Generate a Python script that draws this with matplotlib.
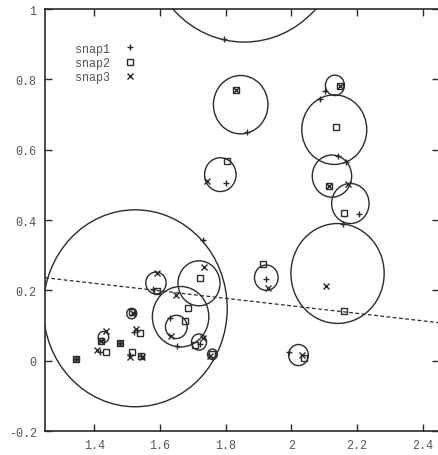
"""
Cluster circles of three snapshots, gnuplot-style scan look.
"""

import matplotlib
matplotlib.use("Agg")
import matplotlib.pyplot as plt
from matplotlib.patches import Circle

# snapshot points (x, y)
snap1_x = [1.866, 1.802, 2.102, 2.089, 2.141, 2.168, 2.206, 2.158, 1.923, 1.993,
           1.730, 1.796, 1.653, 1.580, 1.632, 1.722, 1.522, 1.520, 1.478, 1.419,
           1.344, 1.509, 1.541, 1.425]
snap1_y = [0.649, 0.506, 0.767, 0.743, 0.582, 0.565, 0.417, 0.390, 0.232, 0.025,
           0.342, 0.916, 0.042, 0.205, 0.121, 0.048, 0.082, 0.135, 0.051, 0.025,
           0.006, 0.015, 0.013, 0.060]

snap2_x = [1.832, 1.805, 2.149, 2.136, 2.115, 2.160, 2.161, 1.915, 2.039, 1.722,
           1.686, 1.676, 1.590, 1.706, 1.760, 1.514, 1.539, 1.422, 1.436, 1.478,
           1.344, 1.514, 1.541]
snap2_y = [0.771, 0.569, 0.780, 0.665, 0.497, 0.420, 0.140, 0.274, 0.008, 0.235,
           0.151, 0.113, 0.198, 0.044, 0.020, 0.139, 0.079, 0.055, 0.025, 0.051,
           0.006, 0.025, 0.013]

snap3_x = [1.832, 1.744, 2.149, 2.115, 2.173, 2.107, 1.930, 2.033, 1.734, 1.649,
           1.635, 1.590, 1.730, 1.754, 1.527, 1.436, 1.422, 1.407, 1.478, 1.344,
           1.519, 1.545, 1.510]
snap3_y = [0.771, 0.512, 0.780, 0.497, 0.503, 0.211, 0.206, 0.015, 0.265, 0.186,
           0.070, 0.250, 0.065, 0.012, 0.089, 0.084, 0.055, 0.029, 0.051, 0.006,
           0.135, 0.010, 0.010]

# cluster circles: centre x, centre y, radius (data units)
circ_x = [1.857, 1.525, 1.846, 1.784, 2.133, 2.131, 2.124, 2.180, 2.141, 1.924,
          2.022, 1.719, 1.663, 1.650, 1.588, 1.719, 1.760, 1.514, 1.428]
circ_y = [1.205, 0.149, 0.728, 0.529, 0.783, 0.657, 0.525, 0.447, 0.248, 0.236,
          0.016, 0.220, 0.125, 0.096, 0.221, 0.053, 0.018, 0.134, 0.067]
circ_r = [0.299, 0.280, 0.083, 0.048, 0.029, 0.099, 0.060, 0.057, 0.142, 0.036,
          0.030, 0.064, 0.086, 0.033, 0.031, 0.023, 0.015, 0.015, 0.016]

# fitted trend line
trend_x = [1.25, 2.45]
trend_y = [0.236, 0.108]

INK = "#2b2b2b"
TXT = "#555555"

plt.rcParams["font.family"] = ["Liberation Mono", "DejaVu Sans Mono"]

fig = plt.figure(figsize=(4.39, 4.56), dpi=100)
ax = fig.add_axes([0.1025, 0.0526, 0.8975, 0.9254])

for cx, cy, r in zip(circ_x, circ_y, circ_r):
    ax.add_patch(Circle((cx, cy), r, fill=False, ec=INK, lw=1.0))

ax.plot(trend_x, trend_y, color=INK, lw=0.9, ls=(0, (3, 2)))

ax.plot(snap1_x, snap1_y, ls="none", marker="+", ms=5, mew=1.0, color=INK, label="snap1")
ax.plot(snap2_x, snap2_y, ls="none", marker="s", ms=5, mew=1.0, mfc="none", mec=INK, label="snap2")
ax.plot(snap3_x, snap3_y, ls="none", marker="x", ms=4.5, mew=1.0, color=INK, label="snap3")

ax.set_xlim(1.25, 2.45)
ax.set_ylim(-0.2, 1.0)
ax.set_xticks([1.4, 1.6, 1.8, 2.0, 2.2, 2.4])
ax.set_xticklabels(["1.4", "1.6", "1.8", "2", "2.2", "2.4"])
ax.set_yticks([-0.2, 0, 0.2, 0.4, 0.6, 0.8, 1.0])
ax.set_yticklabels(["-0.2", "0", "0.2", "0.4", "0.6", "0.8", "1"])
ax.tick_params(direction="in", length=5, width=1.0, color=INK, labelcolor=TXT,
               labelsize=8.5, top=True, right=True, pad=6)
for s in ax.spines.values():
    s.set_color(INK)
    s.set_linewidth(1.2)

ax.legend(loc="upper left", bbox_to_anchor=(0.055, 0.94), frameon=False,
          markerfirst=False, fontsize=8.5, labelcolor=TXT, handlelength=1.0,
          handletextpad=1.2, labelspacing=0.2, borderpad=0.2)

fig.savefig("out.png", dpi=100)
